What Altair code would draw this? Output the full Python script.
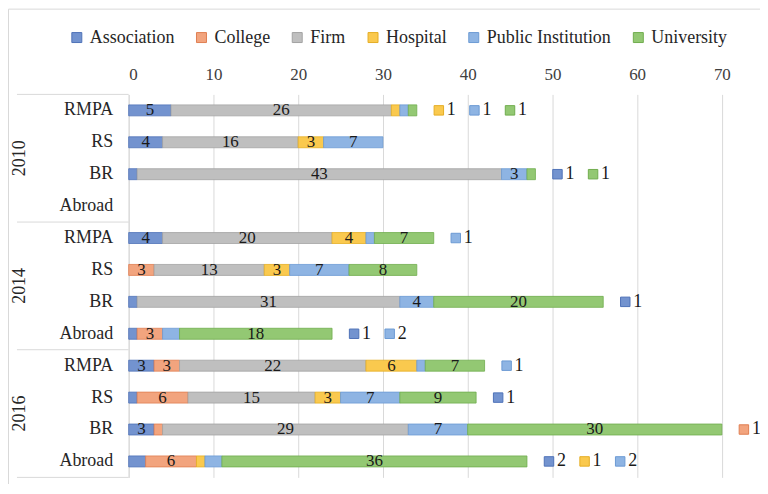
import altair as alt
import pandas as pd

years = ["2010", "2014", "2016"]
regions = ["RMPA", "RS", "BR", "Abroad"]
categories = ["Association", "College", "Firm", "Hospital", "Public Institution", "University"]
fill_colors = ["#7393CF", "#F2A47E", "#BFBFBF", "#FAC94E", "#8EB4E3", "#93C873"]
edge_colors = ["#4F72B8", "#E07E52", "#A3A3A3", "#E5AE25", "#6C9BD4", "#70AD4E"]

# rows: 2010 RMPA, RS, BR, Abroad | 2014 ... | 2016 ...
association = [5, 4, 1, 0, 4, 0, 1, 1, 3, 1, 3, 2]
college = [0, 0, 0, 0, 0, 3, 0, 3, 3, 6, 1, 6]
firm = [26, 16, 43, 0, 20, 13, 31, 0, 22, 15, 29, 0]
hospital = [1, 3, 0, 0, 4, 3, 0, 0, 6, 3, 0, 1]
public_inst = [1, 7, 3, 0, 1, 7, 4, 2, 1, 7, 7, 2]
university = [1, 0, 1, 0, 7, 8, 20, 18, 7, 9, 30, 36]

values = {
    "Association": association,
    "College": college,
    "Firm": firm,
    "Hospital": hospital,
    "Public Institution": public_inst,
    "University": university,
}

rows = [f"{y}|{r}" for y in years for r in regions]

seg_records = []
out_records = []
for i, row in enumerate(rows):
    total = sum(values[c][i] for c in categories)
    x0 = 0
    k = 0
    for c in categories:
        v = values[c][i]
        if v == 0:
            continue
        seg_records.append(dict(row=row, cat=c, value=v, x0=x0, x1=x0 + v,
                                mid=x0 + v / 2, inside=v >= 3))
        if v < 3:
            out_records.append(dict(row=row, cat=c, value=v, pos=total + 2.6 + k * 4.2))
            k += 1
        x0 += v

seg = pd.DataFrame(seg_records)
outl = pd.DataFrame(out_records)
year_df = pd.DataFrame({"row": [f"{y}|RS" for y in years], "year": years})
sep_top = pd.DataFrame({"row": [f"{y}|RMPA" for y in years]})
sep_bot = pd.DataFrame({"row": [rows[-1]]})
one = pd.DataFrame({"a": [0]})

W, H = 633, 384
FONT = "Liberation Serif"
GRID = "#D9D9D9"

XS = alt.Scale(domain=[0, 74.5], nice=False, zero=True)
YS = alt.Scale(domain=rows, paddingInner=0, paddingOuter=0)
X_AXIS = alt.Axis(orient="top", values=[0, 10, 20, 30, 40, 50, 60, 70], title=None,
                  labelFont=FONT, labelFontSize=17, labelColor="#404040",
                  grid=True, gridColor=GRID, domain=False, ticks=False, labelPadding=11)
Y_AXIS = alt.Axis(title=None, labelFont=FONT, labelFontSize=18, labelColor="#262626",
                  ticks=False, domain=True, domainColor=GRID, grid=False,
                  labelPadding=16, labelExpr="split(datum.label, '|')[1]")
LEG = alt.Legend(title=None, orient="none", legendX=-61, legendY=-66, direction="horizontal",
                 symbolType="square", symbolSize=100, symbolStrokeWidth=1,
                 labelFont=FONT, labelFontSize=18, labelColor="#262626",
                 columnPadding=18, labelOffset=4, padding=0)
COLOR = alt.Color("cat:N", scale=alt.Scale(domain=categories, range=fill_colors), legend=LEG)
STROKE = alt.Stroke("cat:N", scale=alt.Scale(domain=categories, range=edge_colors), legend=LEG)


def Y(**kw):
    return alt.Y("row:N", sort=rows, scale=YS, axis=Y_AXIS, **kw)


border = alt.Chart(one).mark_rect(fill="transparent", stroke=GRID, strokeWidth=1).encode(
    x=alt.value(-120.5), x2=alt.value(W + 60), y=alt.value(-85.5), y2=alt.value(H + 60)
)

sep1 = alt.Chart(sep_top).mark_rule(color=GRID, strokeWidth=1).encode(
    x=alt.value(-112), x2=alt.value(0), y=Y(bandPosition=0)
)
sep2 = alt.Chart(sep_bot).mark_rule(color=GRID, strokeWidth=1).encode(
    x=alt.value(-112), x2=alt.value(0), y=Y(bandPosition=1)
)

bars = alt.Chart(seg).mark_bar(size=11, strokeWidth=0.8).encode(
    x=alt.X("x0:Q", scale=XS, axis=X_AXIS),
    x2="x1:Q",
    y=Y(),
    color=COLOR,
    stroke=STROKE,
)

inside = alt.Chart(seg).transform_filter("datum.inside").mark_text(
    font=FONT, fontSize=17, color="#1a1a1a"
).encode(
    x=alt.X("mid:Q", scale=XS, axis=X_AXIS),
    y=Y(),
    text="value:Q",
)

markers = alt.Chart(outl).mark_square(size=90, strokeWidth=1, opacity=1).encode(
    x=alt.X("pos:Q", scale=XS, axis=X_AXIS),
    y=Y(),
    color=COLOR,
    stroke=STROKE,
)

out_text = alt.Chart(outl).mark_text(
    font=FONT, fontSize=18, color="#1a1a1a", align="left", dx=8
).encode(
    x=alt.X("pos:Q", scale=XS, axis=X_AXIS),
    y=Y(),
    text="value:Q",
)

year_text = alt.Chart(year_df).mark_text(
    font=FONT, fontSize=18, color="#262626", angle=270
).encode(
    x=alt.value(-109),
    y=Y(bandPosition=1),
    text="year:N",
)

chart = alt.layer(
    border, sep1, sep2, bars, inside, markers, out_text, year_text
).properties(
    width=W, height=H,
    autosize=alt.AutoSizeParams(type="none"),
    padding={"left": 121, "top": 86, "right": 0, "bottom": 6},
).configure(
    background="white", font=FONT
).configure_view(stroke=None).configure_legend(labelFont=FONT).configure_text(font=FONT)

chart.save("out.html", embed_options={"renderer": "svg", "actions": False})
